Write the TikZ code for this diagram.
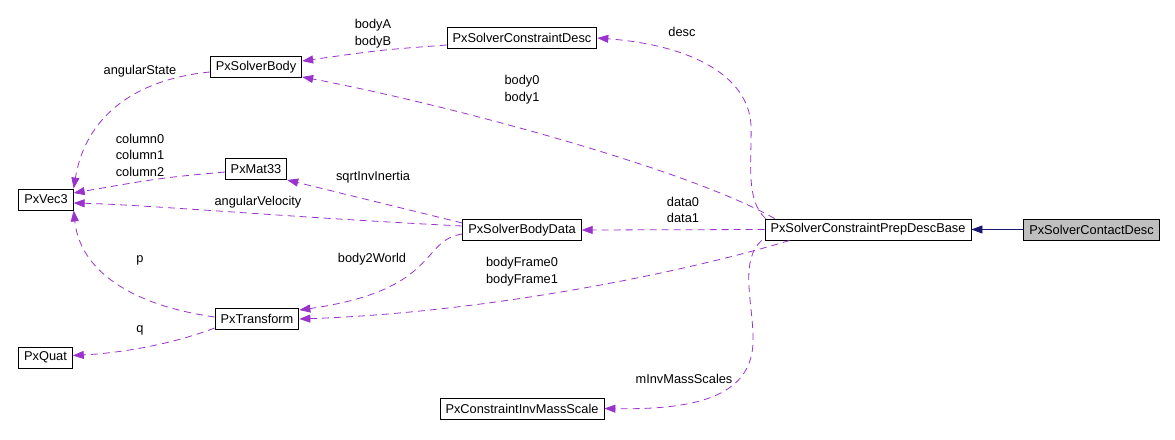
\documentclass[tikz,border=0pt]{standalone}
\usepackage{fontspec}
\setmainfont{Liberation Sans}
\usetikzlibrary{arrows.meta}
\definecolor{depcol}{HTML}{9A32CD}
\definecolor{inhcol}{HTML}{191970}

\begin{document}
\begin{tikzpicture}[
    x=1pt, y=-1pt,
    cls/.style={rectangle, draw, line width=0.9pt, inner xsep=5.5pt, inner ysep=0pt,
                minimum height=21pt, font=\fontsize{12.8}{15}\selectfont},
    dep/.style={draw=depcol, line width=0.8pt, dash pattern=on 7pt off 5pt,
                -{Triangle[length=11pt, width=8pt]}},
    inh/.style={draw=inhcol, line width=0.8pt, -{Triangle[length=11pt, width=8pt]}},
    lbl/.style={align=center, inner sep=0pt, font=\fontsize{12.8}{16.5}\selectfont}
]
  \useasboundingbox (0,0) rectangle (1175,439);

  % right: the documented class and its base
  \node[cls, fill=black!25] (contact) at (1091.5,229.5) {PxSolverContactDesc};
  \node[cls] (base) at (868,229.5) {PxSolverConstraintPrepDescBase};

  % middle column
  \node[cls] (cdesc) at (522,38) {PxSolverConstraintDesc};
  \node[cls] (bodydata) at (522,230) {PxSolverBodyData};
  \node[cls] (invmass) at (522,408.5) {PxConstraintInvMassScale};

  % left columns
  \node[cls] (solverbody) at (256,67) {PxSolverBody};
  \node[cls] (mat33) at (256,169) {PxMat33};
  \node[cls] (transform) at (257,319) {PxTransform};
  \node[cls] (vec3) at (46,199.5) {PxVec3};
  \node[cls] (quat) at (45.5,357.5) {PxQuat};

  % inheritance
  \draw[inh] (contact.west) -- (base.east);

  % members of the base
  \draw[dep] ([xshift=1pt]base.north west) .. controls (745,200) and (752,160) .. (751,125)
             .. controls (748,75) and (690,45) .. (cdesc.east);
  \draw[dep] ([xshift=10pt]base.north west) .. controls (690,170) and (450,105)
             .. ([yshift=1pt]solverbody.south east);
  \draw[dep] (base.west) -- (bodydata.east);
  \draw[dep] ([xshift=25pt]base.south west) .. controls (700,268) and (500,312) .. (transform.east);
  \draw[dep] ([xshift=-3pt]base.south west) .. controls (740,260) and (752,300) .. (753,335)
             .. controls (756,395) and (700,410) .. (invmass.east);

  % members of the other classes
  \draw[dep] ([yshift=-7pt]cdesc.west) .. controls (380,50) .. ([yshift=-5pt]solverbody.north east);
  \draw[dep] ([yshift=-5pt]solverbody.west) .. controls (130,80) and (85,120) .. (vec3.north east);
  \draw[dep] ([yshift=-3pt]mat33.west) .. controls (160,178) .. ([yshift=6.5pt]vec3.east);
  \draw[dep] ([yshift=7pt]bodydata.west) -- (mat33.south east);
  \draw[dep] ([yshift=4pt]bodydata.west) .. controls (300,218) and (150,205) .. ([yshift=-3.5pt]vec3.east);
  \draw[dep] ([yshift=-4pt]bodydata.west) .. controls (420,240) and (440,290)
             .. ([yshift=-2pt]transform.north east);
  \draw[dep] ([yshift=2pt]transform.west) .. controls (130,305) and (80,270) .. (vec3.south east);
  \draw[dep] ([yshift=-9pt]transform.west) .. controls (170,345) and (120,353) .. ([yshift=2pt]quat.east);

  % edge labels
  \node[lbl] (lbodyab) at (373,33.5) {bodyA\\bodyB};
  \node[lbl] (ldesc) at (682,32) {desc};
  \node[lbl] (lbody01) at (522,89.5) {body0\\body1};
  \node[lbl] (langstate) at (140,71) {angularState};
  \node[lbl] (lcolumns) at (140,155) {column0\\column1\\column2};
  \node[lbl] (lsqrt) at (373,177) {sqrtInvInertia};
  \node[lbl] (langvel) at (258,202) {angularVelocity};
  \node[lbl] (ldata) at (683,210) {data0\\data1};
  \node[lbl] (lp) at (140,260) {p};
  \node[lbl] (lworld) at (372,259) {body2World};
  \node[lbl] (lframe) at (522,271.5) {bodyFrame0\\bodyFrame1};
  \node[lbl] (lq) at (140,330) {q};
  \node[lbl] (lscales) at (684,379) {mInvMassScales};
\end{tikzpicture}
\end{document}
